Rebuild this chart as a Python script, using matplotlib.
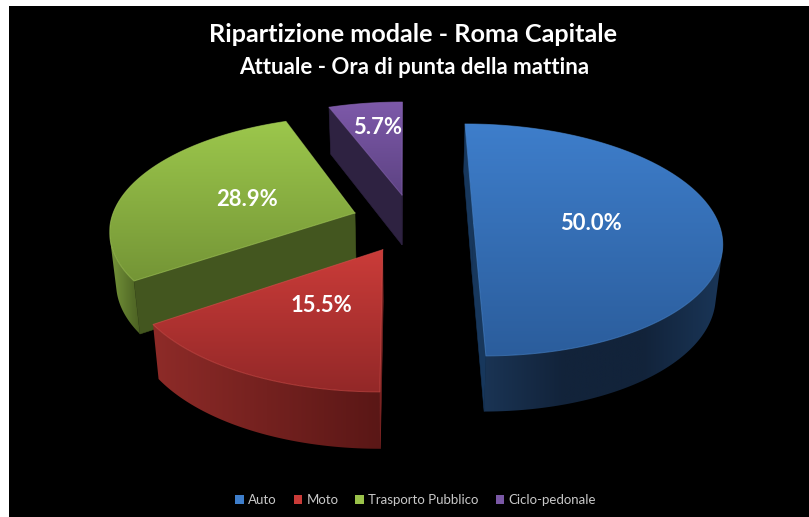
import numpy as np
import matplotlib
matplotlib.use("Agg")
import matplotlib.pyplot as plt
from matplotlib.colors import LinearSegmentedColormap
from matplotlib.patches import Polygon, Rectangle, Patch

title = "Ripartizione modale - Roma Capitale"
subtitle = "Attuale - Ora di punta della mattina"
categories = ["Auto", "Moto", "Trasporto Pubblico", "Ciclo-pedonale"]
shares = [50.0, 15.5, 28.9, 5.7]

# exploded offset of each slice on the pie plane (x, y), radius = 1
offsets = [(0.28, 0.0), (-0.088, -0.224), (-0.207, 0.093), (-0.013, 0.26)]
top_colors = [("#3e7ecb", "#2b5d9c"), ("#cb3c39", "#932828"),
              ("#9cc74c", "#749536"), ("#7d59a9", "#5d4383")]
# outer wall shades, left to right
wall_colors = [("#1a3454", "#12233a", "#12233a", "#1a3658"), ("#8e2b28", "#5a1716"),
               ("#76963a", "#4a5f22"), ("#302344", "#251b33")]
cut_colors = ["#17375c", "#7a2322", "#43561f", "#2e2241"]
edge_colors = ["#4a88d0", "#d8504c", "#a9d05c", "#8a66b5"]
legend_colors = ["#3e7ecb", "#c93b38", "#9ac24a", "#7a58a5"]
label_xy = [(591, 223), (321, 306), (247, 199), (378, 127)]

# camera: lines of the pie plane meet at (405, -574)
VX, VY = 405, -574
A, B, P = 245.0, 797.4, 0.1425
A2, B2, VY2 = A * 0.978, B + 28, VY + 23


def project(x, y, bottom=False):
    w = 1 + P * np.asarray(y)
    if bottom:
        return VX + A2 * np.asarray(x) / w, VY2 + B2 / w
    return VX + A * np.asarray(x) / w, VY + B / w


def signed_area(xs, ys):
    return 0.5 * np.sum(xs * np.roll(ys, -1) - np.roll(xs, -1) * ys)


def gradient_fill(ax, xs, ys, colors, horizontal, z):
    cmap = LinearSegmentedColormap.from_list("fill", colors)
    ramp = np.linspace(0, 1, 256)
    ramp = ramp[None, :] if horizontal else ramp[:, None]
    im = ax.imshow(ramp, cmap=cmap, aspect="auto", zorder=z,
                   extent=(xs.min(), xs.max(), ys.max(), ys.min()))
    face = Polygon(np.c_[xs, ys], closed=True, fc="none", ec="none")
    ax.add_patch(face)
    im.set_clip_path(face)


def draw_cut(ax, x0, y0, x1, y1, color):
    tx, ty = project([x0, x1], [y0, y1])
    bx, by = project([x1, x0], [y1, y0], bottom=True)
    xs = np.r_[tx, bx]
    ys = np.r_[ty, by]
    # on screen a face turned to the camera winds negative
    if signed_area(xs, ys) < 0:
        ax.add_patch(Polygon(np.c_[xs, ys], closed=True, fc=color, ec=color, lw=0.4, zorder=2))


def draw_slice(ax, i, start, end):
    ox, oy = offsets[i]
    t = np.radians(np.linspace(start, end, 200))
    rx = ox + np.sin(t)
    ry = oy + np.cos(t)
    px, py = project(rx, ry)
    qx, qy = project(rx, ry, bottom=True)

    # outer wall: only the strips that face the camera
    seen = [k for k in range(len(t) - 1)
            if signed_area(np.array([px[k], px[k + 1], qx[k + 1], qx[k]]),
                           np.array([py[k], py[k + 1], qy[k + 1], qy[k]])) < 0]
    if seen:
        k0, k1 = seen[0], seen[-1] + 2
        xs = np.r_[px[k0:k1], qx[k0:k1][::-1]]
        ys = np.r_[py[k0:k1], qy[k0:k1][::-1]]
        gradient_fill(ax, xs, ys, wall_colors[i], True, 2)

    draw_cut(ax, ox, oy, rx[0], ry[0], cut_colors[i])
    draw_cut(ax, rx[-1], ry[-1], ox, oy, cut_colors[i])

    # top face
    cx, cy = project(ox, oy)
    vx = np.r_[cx, px, cx]
    vy = np.r_[cy, py, cy]
    gradient_fill(ax, vx, vy, top_colors[i], False, 3)
    ax.plot(vx, vy, color=edge_colors[i], lw=0.7, alpha=0.6, zorder=4, solid_joinstyle="round")


def slice_ranges(values):
    edges = np.cumsum([0] + list(values)) / np.sum(values) * 360
    return list(zip(edges[:-1], edges[1:]))


fig = plt.figure(figsize=(8.09, 5.17), dpi=100, facecolor="white")
ax = fig.add_axes([0, 0, 1, 1])
ax.set_axis_off()
ax.add_patch(Rectangle((9, 6), 800, 511, fc="black", ec="none", zorder=0))

ranges = slice_ranges(shares)
for i in [3, 2, 0, 1]:
    draw_slice(ax, i, *ranges[i])

ax.set_xlim(0, 809)
ax.set_ylim(517, 0)

for i, (lx, ly) in enumerate(label_xy):
    ax.text(lx, ly, f"{shares[i]:.1f}%", color="white", fontsize=15.8, fontweight="bold",
            family="Lato", ha="center", va="center", zorder=5)

ax.text(413.5, 35, title, color="white", fontsize=18.2, fontweight="bold", family="Lato",
        ha="center", va="center")
ax.text(414, 67, subtitle, color="white", fontsize=16, fontweight="bold", family="Lato",
        ha="center", va="center")

handles = [Patch(fc=c, ec="none") for c in legend_colors]
ax.legend(handles, categories, ncol=4, loc="center", bbox_to_anchor=(415.5 / 809, 1 - 500 / 517),
          frameon=False, labelcolor="#c8c8c8", prop={"family": "Lato", "size": 9.5},
          handlelength=0.65, handleheight=0.65, handletextpad=0.3, columnspacing=1.3)

fig.savefig("out.png", dpi=100, facecolor="white")
